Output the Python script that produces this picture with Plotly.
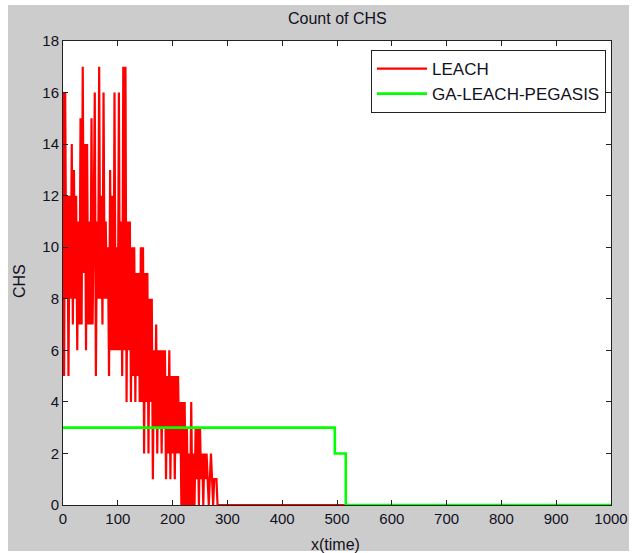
import plotly.graph_objects as go

# Cluster-head count per round for the two protocols
leach_rounds = list(range(0, 286, 2)) + [1000]
leach_chs = [
    16, 5, 16, 8, 12, 5, 12, 8, 14, 7, 13, 8, 12, 6, 11, 7, 15, 7, 17, 9,
    14, 6, 14, 7, 11, 7, 15, 7, 11, 16, 5, 11, 8, 17, 8, 12, 7, 16, 8, 11,
    8, 10, 5, 13, 6, 12, 6, 16, 6, 10, 6, 16, 6, 11, 5, 17, 6, 17, 4, 11,
    6, 11, 4, 10, 5, 10, 4, 9, 5, 9, 4, 10, 4, 10, 2, 9, 4, 9, 2, 8,
    4, 8, 1, 6, 3, 7, 2, 6, 3, 6, 2, 6, 3, 6, 1, 5, 2, 6, 1, 5,
    2, 5, 1, 5, 2, 5, 2, 4, 0, 4, 0, 4, 0, 3, 0, 2, 0, 4, 0, 2,
    0, 3, 1, 3, 0, 3, 1, 2, 0, 2, 1, 2, 1, 0, 1, 2, 1, 0, 1, 1,
    1, 0, 0, 0,
]

ga_rounds = [0, 496, 516, 1000]
ga_chs = [3, 2, 0, 0]

x_ticks = list(range(0, 1001, 100))
y_ticks = list(range(0, 19, 2))

W, H = 633, 553
L, R, T, B = 63, 22, 41, 48
PW, PH = W - L - R, H - T - B


def px(xp):
    return (xp - L) / PW


def py(yp):
    return (H - B - yp) / PH


FONT = "Liberation Sans"
GRAY = "#cccccc"
INK = "#111122"

fig = go.Figure()
fig.add_trace(go.Scatter(
    x=leach_rounds, y=leach_chs, mode="lines", name="LEACH",
    line=dict(color="#ff0000", width=2.2), legendgroup="a",
))
fig.add_trace(go.Scatter(
    x=ga_rounds, y=ga_chs, mode="lines", name="GA-LEACH-PEGASIS",
    line=dict(color="#00ff00", width=2.6, shape="hv"), legendgroup="b",
))

axis_common = dict(
    showgrid=False, zeroline=False, showline=True, linecolor="#222222",
    linewidth=1, mirror="ticks", ticks="inside", ticklen=5,
    tickcolor="#222222", tickfont=dict(family=FONT, size=15, color=INK),
    automargin=False,
)


def label(text, xp, yp, angle=0):
    return dict(text=text, x=px(xp), y=py(yp), xref="paper", yref="paper",
                xanchor="center", yanchor="middle", textangle=angle,
                showarrow=False, font=dict(family=FONT, size=16, color=INK))


fig.update_layout(
    width=W, height=H,
    margin=dict(l=L, r=R, t=T, b=B),
    paper_bgcolor=GRAY, plot_bgcolor="white",
    showlegend=True,
    legend=dict(
        x=px(371), y=py(50), xanchor="left", yanchor="top",
        bgcolor="white", bordercolor="#222222", borderwidth=1,
        font=dict(family=FONT, size=17, color=INK),
        itemwidth=50, tracegroupgap=0,
    ),
    xaxis=dict(range=[0, 1000], tickvals=x_ticks, **axis_common),
    yaxis=dict(range=[0, 18], tickvals=y_ticks, **axis_common),
    annotations=[
        label("Count of CHS", 337, 18),
        label("x(time)", 335, 544),
        label("CHS", 19, 281, angle=-90),
    ],
    shapes=[
        dict(type="rect", xref="paper", yref="paper", layer="above",
             x0=px(0), x1=px(8), y0=py(0), y1=py(H), fillcolor="white", line_width=0),
        dict(type="rect", xref="paper", yref="paper", layer="above",
             x0=px(0), x1=px(W), y0=py(0), y1=py(5), fillcolor="white", line_width=0),
        dict(type="rect", xref="paper", yref="paper", layer="above",
             x0=px(629), x1=px(W), y0=py(0), y1=py(H), fillcolor="white", line_width=0),
        dict(type="rect", xref="paper", yref="paper", layer="above",
             x0=px(0), x1=px(W), y0=py(551), y1=py(H), fillcolor="white", line_width=0),
    ],
)

fig.write_html("out.html")
